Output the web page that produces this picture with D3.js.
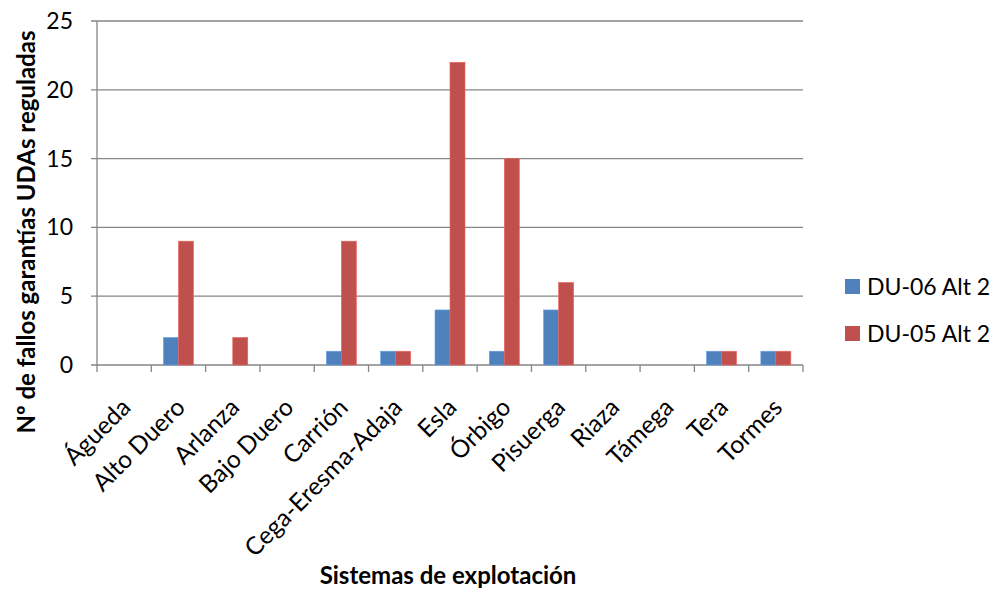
<!DOCTYPE html>
<meta charset="utf-8">
<script src="https://d3js.org/d3.v7.min.js"></script>
<style>
  body { margin: 0; background: #fff; }
  text { font-family: Lato, "Noto Sans", sans-serif; fill: #000; }
</style>
<body>
<div id="chart"></div>
<script>
// data
var categories = ["Águeda", "Alto Duero", "Arlanza", "Bajo Duero", "Carrión", "Cega-Eresma-Adaja",
  "Esla", "Órbigo", "Pisuerga", "Riaza", "Támega", "Tera", "Tormes"];
var du06 = [0, 2, 0, 0, 1, 1, 4, 1, 4, 0, 0, 1, 1];
var du05 = [0, 9, 2, 0, 9, 1, 22, 15, 6, 0, 0, 1, 1];
var seriesNames = ["DU-06 Alt 2", "DU-05 Alt 2"];
var seriesColors = ["#4F81BD", "#C0504D"];
var yTicks = [0, 5, 10, 15, 20, 25];

var W = 993, H = 591;
var margin = { top: 21, right: 190, bottom: 226, left: 97 };
var width = 803 - margin.left, height = 365 - margin.top;

var svg = d3.select("#chart").append("svg")
  .attr("width", W).attr("height", H);
var g = svg.append("g")
  .attr("transform", "translate(" + margin.left + "," + margin.top + ")");

var x = d3.scaleBand().domain(categories).range([0, width]);
var x1 = d3.scaleBand().domain([0, 1]).range([0, 30]);
var y = d3.scaleLinear().domain([0, 25]).range([height, 0]);

// gridlines
g.append("g").selectAll("line").data(yTicks).enter().append("line")
  .attr("x1", -6).attr("x2", width)
  .attr("y1", function (d) { return y(d); }).attr("y2", function (d) { return y(d); })
  .style("stroke", "#868686").style("stroke-width", 1.3);

// y axis line
g.append("line").attr("x1", 0).attr("x2", 0).attr("y1", 0).attr("y2", height)
  .style("stroke", "#868686").style("stroke-width", 1.3);

// y tick labels
g.append("g").selectAll("text").data(yTicks).enter().append("text")
  .attr("x", -24).attr("y", function (d) { return y(d); })
  .attr("dy", "0.35em").attr("text-anchor", "end")
  .style("font-size", "23px")
  .text(function (d) { return d; });

// x tick marks
var xt = categories.map(function (c) { return x(c); }).concat([width]);
g.append("g").selectAll("line").data(xt).enter().append("line")
  .attr("x1", function (d) { return d; }).attr("x2", function (d) { return d; })
  .attr("y1", height).attr("y2", height + 7)
  .style("stroke", "#868686").style("stroke-width", 1.3);

// bars
var series = [du06, du05];
series.forEach(function (vals, s) {
  g.append("g").selectAll("rect").data(vals).enter().append("rect")
    .attr("x", function (d, i) { return x(categories[i]) + (x.bandwidth() - 30) / 2 + x1(s); })
    .attr("width", x1.bandwidth())
    .attr("y", function (d) { return y(d); })
    .attr("height", function (d) { return y(0) - y(d); })
    .style("fill", seriesColors[s])
    .style("stroke", d3.color(seriesColors[s]).brighter(0.6))
    .style("stroke-width", 0.6);
});

// x tick labels rotated
g.append("g").selectAll("text").data(categories).enter().append("text")
  .attr("transform", function (d) {
    return "translate(" + (x(d) + x.bandwidth() / 2 + 8) + "," + (height + 44) + ") rotate(-45)";
  })
  .attr("text-anchor", "end")
  .style("font-size", "24.5px")
  .text(function (d) { return d; });

// axis titles
svg.append("text")
  .attr("x", 448).attr("y", 584).attr("text-anchor", "middle")
  .style("font-size", "24px").style("font-weight", "bold")
  .text("Sistemas de explotación");

svg.append("text")
  .attr("transform", "translate(35,232) rotate(-90)")
  .attr("text-anchor", "middle")
  .style("font-size", "24px").style("font-weight", "bold")
  .text("Nº de fallos garantías UDAs reguladas");

// legend
var legend = svg.append("g").attr("transform", "translate(845,279)");
seriesNames.forEach(function (n, i) {
  var lg = legend.append("g").attr("transform", "translate(0," + (i * 47) + ")");
  lg.append("rect").attr("width", 15).attr("height", 15).style("fill", seriesColors[i]);
  lg.append("text").attr("x", 22).attr("y", 8).attr("dy", "0.35em")
    .style("font-size", "23px").text(n);
});
</script>
</body>
